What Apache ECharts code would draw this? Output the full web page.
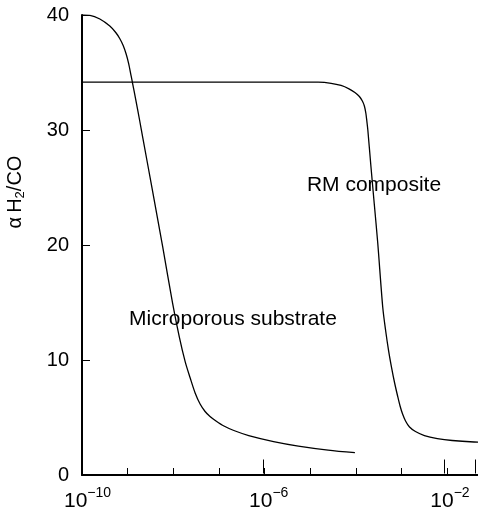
<!DOCTYPE html>
<html>
<head>
<meta charset="utf-8">
<script src="https://cdn.jsdelivr.net/npm/echarts@6/dist/echarts.min.js"></script>
<style>
html,body{margin:0;padding:0;background:#fff;}
#chart{width:478px;height:512px;}
</style>
</head>
<body>
<div id="chart"></div>
<script>
// x values are given as log10 exponents, y values are selectivity
const microporousLogX = [-10, -9.826, -9.609, -9.391, -9.261, -9.174, -9.098, -9.033, -8.978, -8.924, -8.891, -8.826, -8.739, -8.667, -8.467, -8.233, -8.015, -7.870, -7.739, -7.630, -7.522, -7.413, -7.304, -7.196, -7.065, -6.891, -6.674, -6.348, -5.804, -5.261, -4.609, -4.022];
const microporousY    = [40.0, 39.97, 39.65, 39.04, 38.48, 37.96, 37.35, 36.61, 35.78, 34.70, 34.04, 32.70, 30.87, 29.30, 24.96, 19.85, 14.93, 12.03, 9.83, 8.43, 7.13, 6.17, 5.52, 5.09, 4.70, 4.26, 3.87, 3.43, 2.91, 2.52, 2.17, 1.94];

const rmLogX = [-10, -7, -5.261, -4.826, -4.543, -4.326, -4.152, -4.022, -3.924, -3.859, -3.815, -3.783, -3.761, -3.739, -3.674, -3.598, -3.522, -3.413, -3.348, -3.283, -3.217, -3.152, -3.087, -3.033, -2.978, -2.913, -2.826, -2.696, -2.500, -2.217, -1.891, -1.413, -1.13];
const rmY    = [34.17, 34.17, 34.17, 34.16, 34.06, 33.87, 33.58, 33.26, 32.91, 32.52, 32.09, 31.48, 30.78, 30.0, 26.96, 23.57, 20.17, 14.61, 12.52, 10.78, 9.30, 8.0, 6.87, 6.0, 5.30, 4.70, 4.17, 3.78, 3.43, 3.17, 3.0, 2.87, 2.85];

const xMinExp = -10;
const xMaxExp = -1.326;
const majorTickExps = [-10, -6, -2];
const yTicks = [0, 10, 20, 30, 40];
const labelMicro = 'Microporous substrate';
const labelRM = 'RM composite';

const FONT = '"Liberation Sans", Arial, Helvetica, sans-serif';

function toPairs(lx, ys) { return lx.map((e, i) => [Math.pow(10, e), ys[i]]); }

const chart = echarts.init(document.getElementById('chart'), null, {renderer: 'canvas'});

const gridBox = {left: 82, top: 15, right: -3, bottom: 37};

const option = {
  animation: false,
  backgroundColor: '#fff',
  grid: [Object.assign({}, gridBox), Object.assign({}, gridBox)],
  xAxis: [
    {
      type: 'log', gridIndex: 0, logBase: 10,
      min: Math.pow(10, xMinExp), max: Math.pow(10, xMaxExp), interval: 1,
      axisLine: {show: true, lineStyle: {color: '#000', width: 2}},
      axisTick: {show: true, inside: true, length: 7, lineStyle: {color: '#000', width: 1}},
      axisLabel: {show: false},
      splitLine: {show: false}, minorTick: {show: false}
    },
    {
      type: 'log', gridIndex: 1, logBase: 10,
      min: Math.pow(10, xMinExp), max: Math.pow(10, xMaxExp), interval: 4,
      axisLine: {show: false},
      axisTick: {show: true, inside: true, length: 14, lineStyle: {color: '#000', width: 1}},
      axisLabel: {
        show: true, margin: 13, color: '#000', fontFamily: FONT, fontSize: 20,
        padding: [0, 0, 0, 11],
        formatter: function (v) {
          const l = Math.log10(v);
          const e = Math.round(l);
          if (Math.abs(l - e) > 0.01 || majorTickExps.indexOf(e) < 0) return '';
          return '{b|10}{s|\u2212' + Math.abs(e) + '}';
        },
        rich: {
          b: {fontSize: 21, lineHeight: 30, fontFamily: FONT, color: '#000', verticalAlign: 'middle'},
          s: {fontSize: 14, lineHeight: 14, fontFamily: FONT, color: '#000', verticalAlign: 'top'}
        }
      },
      splitLine: {show: false}, minorTick: {show: false}
    }
  ],
  yAxis: [
    {
      type: 'value', gridIndex: 0, min: yTicks[0], max: yTicks[yTicks.length - 1], interval: 10,
      axisLine: {show: true, lineStyle: {color: '#000', width: 2}},
      axisTick: {show: true, inside: true, length: 8, lineStyle: {color: '#000', width: 1}},
      axisLabel: {show: true, margin: 13, fontSize: 20, color: '#000', fontFamily: FONT},
      splitLine: {show: false}
    },
    {
      type: 'value', gridIndex: 1, min: 0, max: 40, show: false
    }
  ],
  series: [
    {
      name: labelMicro, type: 'line', xAxisIndex: 0, yAxisIndex: 0,
      data: toPairs(microporousLogX, microporousY),
      showSymbol: false, smooth: 0.3,
      lineStyle: {color: '#000', width: 1.3}
    },
    {
      name: labelRM, type: 'line', xAxisIndex: 0, yAxisIndex: 0,
      data: toPairs(rmLogX, rmY),
      showSymbol: false, smooth: 0.3,
      lineStyle: {color: '#000', width: 1.3}
    }
  ],
  graphic: [
    {
      type: 'text', x: 15, y: 192, rotation: Math.PI / 2,
      style: {
        text: '{a|\u03b1}{h|H}{sub|2}{h|/CO}',
        align: 'center', verticalAlign: 'middle',
        rich: {
          a: {fontSize: 20, fontFamily: FONT, fill: '#000', lineHeight: 24, padding: [0, 4, 0, 0], verticalAlign: 'middle'},
          h: {fontSize: 20, fontFamily: FONT, fill: '#000', lineHeight: 24, verticalAlign: 'middle'},
          sub: {fontSize: 13, fontFamily: FONT, fill: '#000', lineHeight: 13, verticalAlign: 'bottom'}
        }
      }
    },
    {
      type: 'text', x: 374, y: 185,
      style: {text: labelRM, fontSize: 21, fontFamily: FONT, fill: '#000', align: 'center', verticalAlign: 'middle'}
    },
    {
      type: 'text', x: 233, y: 319,
      style: {text: labelMicro, fontSize: 21, fontFamily: FONT, fill: '#000', align: 'center', verticalAlign: 'middle'}
    }
  ]
};

chart.setOption(option);
</script>
</body>
</html>
